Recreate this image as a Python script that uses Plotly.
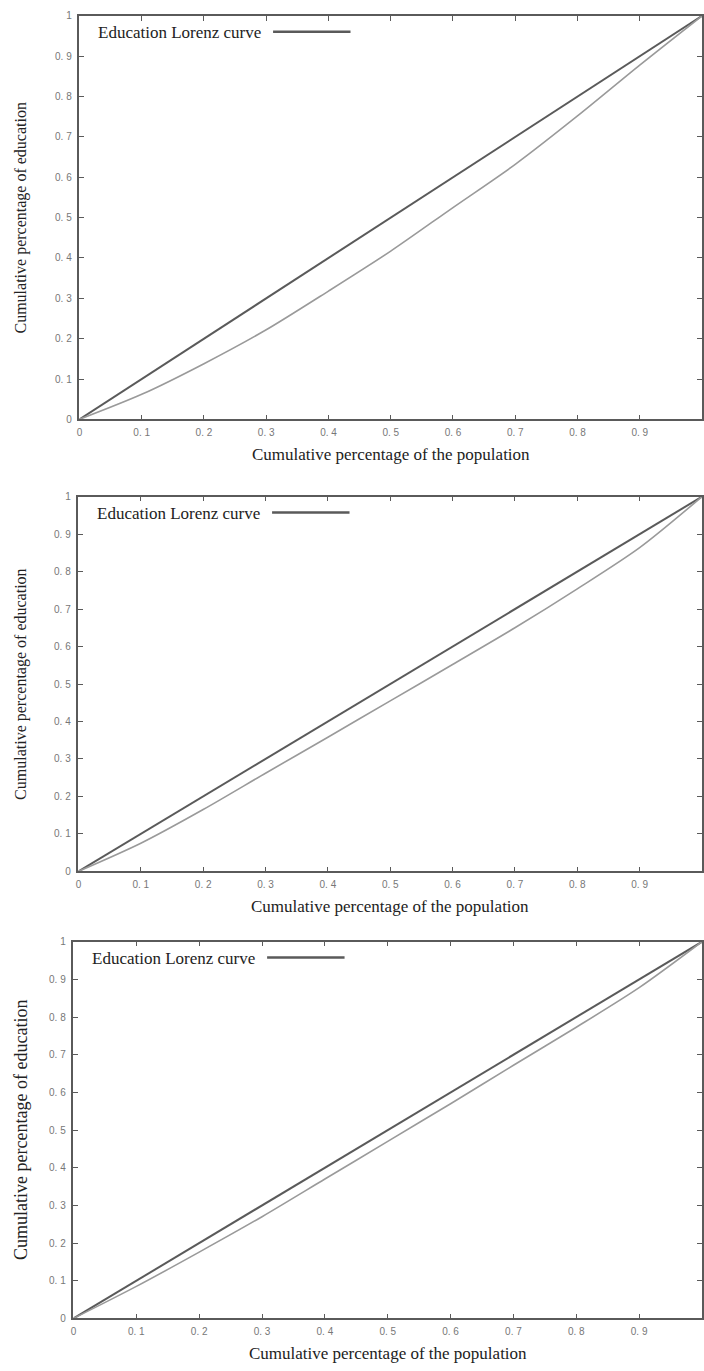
import plotly.graph_objects as go

# ---- data ----
population_share = [0, 0.1, 0.2, 0.3, 0.4, 0.5, 0.6, 0.7, 0.8, 0.9, 1.0]
equality_line = [0, 0.1, 0.2, 0.3, 0.4, 0.5, 0.6, 0.7, 0.8, 0.9, 1.0]
lorenz_panel1 = [0, 0.062, 0.138, 0.222, 0.318, 0.417, 0.525, 0.632, 0.752, 0.878, 1.0]
lorenz_panel2 = [0, 0.075, 0.165, 0.262, 0.358, 0.455, 0.552, 0.650, 0.754, 0.864, 1.0]
lorenz_panel3 = [0, 0.085, 0.176, 0.270, 0.370, 0.470, 0.570, 0.672, 0.773, 0.878, 1.0]

x_tick_vals = [0, 0.1, 0.2, 0.3, 0.4, 0.5, 0.6, 0.7, 0.8, 0.9]
x_tick_text = ["0", "0. 1", "0. 2", "0. 3", "0. 4", "0. 5", "0. 6", "0. 7", "0. 8", "0. 9"]
y_tick_vals = [0, 0.1, 0.2, 0.3, 0.4, 0.5, 0.6, 0.7, 0.8, 0.9, 1.0]
y_tick_text = ["0", "0. 1", "0. 2", "0. 3", "0. 4", "0. 5", "0. 6", "0. 7", "0. 8", "0. 9", "1"]

legend_label = "Education Lorenz curve"
x_title = "Cumulative percentage of the population"
y_title = "Cumulative percentage of education"

W, H = 704, 1371
# panel boxes in pixels: (left, top, bottom, ytitle font size)
panels = [
    (77, 10, 417, 16),
    (76, 495, 873, 16),
    (71, 944, 1324, 18),
]
lorenz_sets = [lorenz_panel1, lorenz_panel2, lorenz_panel3]

DARK = "#5a5a5a"
LIGHT = "#9a9a9a"
SERIF = "Liberation Serif, Times New Roman, serif"
TICKFONT = "Liberation Sans, Arial, sans-serif"

fig = go.Figure()
annotations = []
shapes = []

for i, ((left, top, bottom, ysize), lor) in enumerate(zip(panels, lorenz_sets)):
    n = "" if i == 0 else str(i + 1)
    xa, ya = "x" + n, "y" + n
    fig.add_trace(go.Scatter(x=population_share, y=equality_line, mode="lines",
                             line=dict(color=DARK, width=2), xaxis=xa, yaxis=ya,
                             showlegend=False, hoverinfo="skip"))
    fig.add_trace(go.Scatter(x=population_share, y=lor, mode="lines",
                             line=dict(color=LIGHT, width=1.6, shape="spline", smoothing=0.8),
                             xaxis=xa, yaxis=ya, showlegend=False, hoverinfo="skip"))
    dom_x = [left / W, 1.0]
    dom_y = [1 - bottom / H, 1 - top / H]
    axis_common = dict(showgrid=False, zeroline=False, showline=True, linecolor=DARK,
                       linewidth=1.5, mirror="ticks", ticks="inside", ticklen=5,
                       tickcolor=DARK, tickwidth=1,
                       tickfont=dict(family=TICKFONT, size=10, color="#777"))
    fig.update_layout(**{
        "xaxis" + n: dict(domain=dom_x, range=[0, 1], tickvals=x_tick_vals,
                          ticktext=x_tick_text, anchor=ya, ticklabelstandoff=3,
                          **axis_common),
        "yaxis" + n: dict(domain=dom_y, range=[0, 1], tickvals=y_tick_vals,
                          ticktext=y_tick_text, anchor=xa, ticklabelstandoff=4,
                          **axis_common),
    })
    xd, yd = xa + " domain", ya + " domain"
    # x axis title
    annotations.append(dict(text=x_title, xref=xd, yref="paper", x=0.5,
                            y=1 - (bottom + 35) / H, showarrow=False,
                            font=dict(family=SERIF, size=17, color="#222"),
                            xanchor="center", yanchor="middle"))
    # y axis title
    annotations.append(dict(text=y_title, xref="paper", yref=yd, x=18 / W, y=0.5,
                            showarrow=False, textangle=-90,
                            font=dict(family=SERIF, size=ysize, color="#222"),
                            xanchor="center", yanchor="middle"))
    # legend text + key line
    annotations.append(dict(text=legend_label, xref="paper", yref="paper",
                            x=(left + 17) / W, y=1 - (top + 17) / H, showarrow=False,
                            font=dict(family=SERIF, size=17, color="#222"),
                            xanchor="left", yanchor="middle"))
    shapes.append(dict(type="line", xref="paper", yref="paper",
                       x0=(left + 195) / W, x1=(left + 273) / W,
                       y0=1 - (top + 16) / H, y1=1 - (top + 16) / H,
                       line=dict(color=DARK, width=2.5)))

fig.update_layout(width=W, height=H, margin=dict(l=0, r=0, t=0, b=0),
                  paper_bgcolor="white", plot_bgcolor="white",
                  annotations=annotations, shapes=shapes, showlegend=False)

fig.write_html("out.html", config={"displayModeBar": False},
               post_script="document.body.style.margin='0px';document.body.style.padding='0px';")
